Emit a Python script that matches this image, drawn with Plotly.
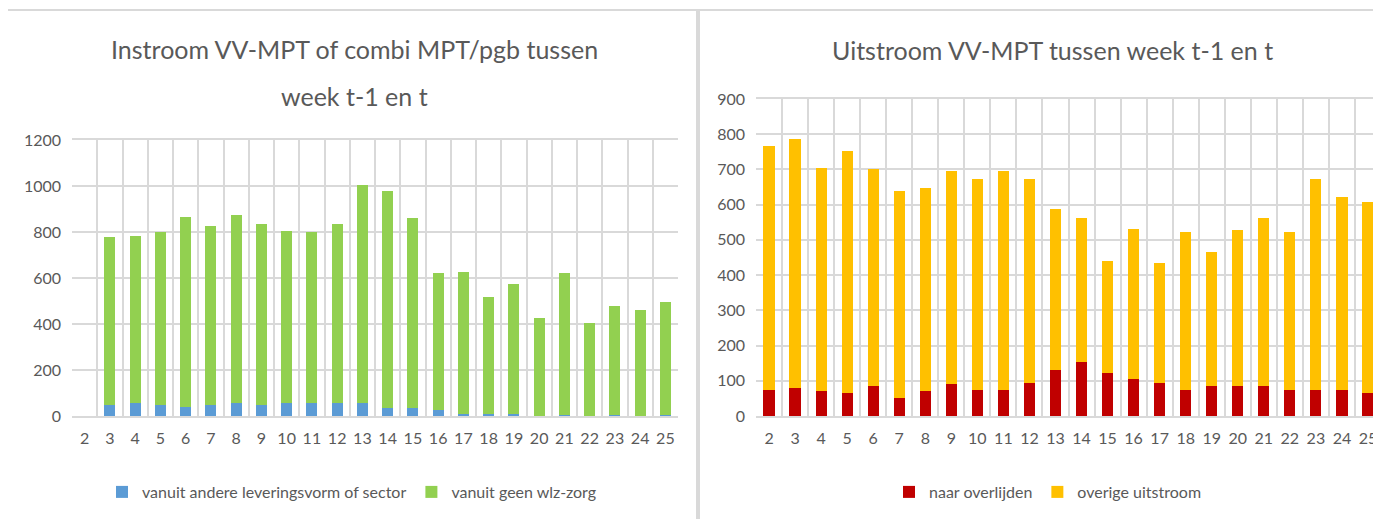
import plotly.graph_objects as go

# the page body adds an 8px margin; size the figure so page == 1381x519
OFF = 8
W, H = 1381 - OFF, 519 - OFF

weeks = [str(w) for w in range(2, 26)]

# Left chart: Instroom
in_andere = [None, 49, 57, 49, 41, 49, 57, 49, 57, 57, 57, 57, 33, 33, 25, 7, 7, 7, 2, 5, 0, 5, 0, 5]
in_totaal = [None, 778, 782, 802, 864, 826, 875, 834, 806, 801, 834, 1006, 977, 860, 620, 626, 519, 573, 424, 620, 406, 480, 460, 494]
in_geen = [None if t is None else t - a for t, a in zip(in_totaal, in_andere)]

# Right chart: Uitstroom
uit_overlijden = [75, 80, 70, 66, 86, 52, 70, 92, 75, 75, 95, 132, 152, 122, 106, 95, 75, 86, 86, 86, 75, 75, 75, 65]
uit_totaal = [766, 786, 705, 751, 700, 638, 648, 695, 674, 695, 674, 587, 563, 441, 530, 434, 523, 465, 528, 563, 523, 673, 622, 607]
uit_overig = [t - o for t, o in zip(uit_totaal, uit_overlijden)]

FONT = "Lato, sans-serif"
GRID = "#d9d9d9"
TXT = "#595959"

fig = go.Figure()
fig.add_bar(x=weeks, y=in_andere, name="vanuit andere leveringsvorm of sector",
            marker_color="#5b9bd5", xaxis="x", yaxis="y", legend="legend")
fig.add_bar(x=weeks, y=in_geen, name="vanuit geen wlz-zorg",
            marker_color="#92d050", xaxis="x", yaxis="y", legend="legend")
fig.add_bar(x=weeks, y=uit_overlijden, name="naar overlijden",
            marker_color="#c00000", xaxis="x2", yaxis="y2", legend="legend2")
fig.add_bar(x=weeks, y=uit_overig, name="overige uitstroom",
            marker_color="#ffc000", xaxis="x2", yaxis="y2", legend="legend2")
fig.update_traces(marker_line_width=0)

def px(x):
    return (x - OFF) / W

def py(y):
    return 1 - (y - OFF) / H

xcommon = dict(type="category", tickson="boundaries", showgrid=True, gridcolor=GRID, gridwidth=1.5,
               showline=True, linecolor=GRID, linewidth=1.5, mirror=True, ticks="",
               tickangle=0, automargin=False, ticklabelstandoff=7,
               tickfont=dict(family=FONT, size=16, color=TXT), fixedrange=True)
ycommon = dict(showgrid=True, gridcolor=GRID, gridwidth=1.5, zeroline=False, showline=False,
               ticks="", automargin=False, ticklabelstandoff=10,
               tickfont=dict(family=FONT, size=16, color=TXT), fixedrange=True)

fig.update_layout(
    width=W, height=H,
    margin=dict(l=0, r=0, t=0, b=0, autoexpand=False),
    paper_bgcolor="white", plot_bgcolor="white",
    barmode="stack", bargap=0.57,
    font=dict(family=FONT, color=TXT),
    xaxis=dict(domain=[px(72), px(678)], anchor="y", **xcommon),
    yaxis=dict(domain=[py(416), py(140)], anchor="x", range=[0, 1200], dtick=200, **ycommon),
    xaxis2=dict(domain=[px(756), 1.0], anchor="y2", **xcommon),
    yaxis2=dict(domain=[py(416), py(99)], anchor="x2", range=[0, 900], dtick=100, **ycommon),
    legend=dict(orientation="h", x=px(352), xanchor="center", y=py(492), yanchor="middle",
                font=dict(family=FONT, size=16, color=TXT), itemwidth=30, traceorder="normal"),
    legend2=dict(orientation="h", x=px(1048), xanchor="center", y=py(492), yanchor="middle",
                 font=dict(family=FONT, size=16, color=TXT), itemwidth=30, traceorder="normal"),
    showlegend=True,
)

# panel borders
fig.add_shape(type="rect", xref="paper", yref="paper", x0=px(5), x1=px(697), y0=py(530), y1=py(10),
              line=dict(color=GRID, width=2), layer="below")
fig.add_shape(type="rect", xref="paper", yref="paper", x0=px(699), x1=px(1400), y0=py(530), y1=py(10),
              line=dict(color=GRID, width=2), layer="below")

title_font = dict(family=FONT, size=25, color=TXT)
fig.add_annotation(text="Instroom VV-MPT of combi MPT/pgb tussen", xref="paper", yref="paper",
                   x=px(354), y=py(49), xanchor="center", yanchor="middle", showarrow=False, font=title_font)
fig.add_annotation(text="week t-1 en t", xref="paper", yref="paper",
                   x=px(354), y=py(96), xanchor="center", yanchor="middle", showarrow=False, font=title_font)
fig.add_annotation(text="Uitstroom VV-MPT tussen week t-1 en t", xref="paper", yref="paper",
                   x=px(1052), y=py(50), xanchor="center", yanchor="middle", showarrow=False, font=title_font)

fig.write_html("out.html")
